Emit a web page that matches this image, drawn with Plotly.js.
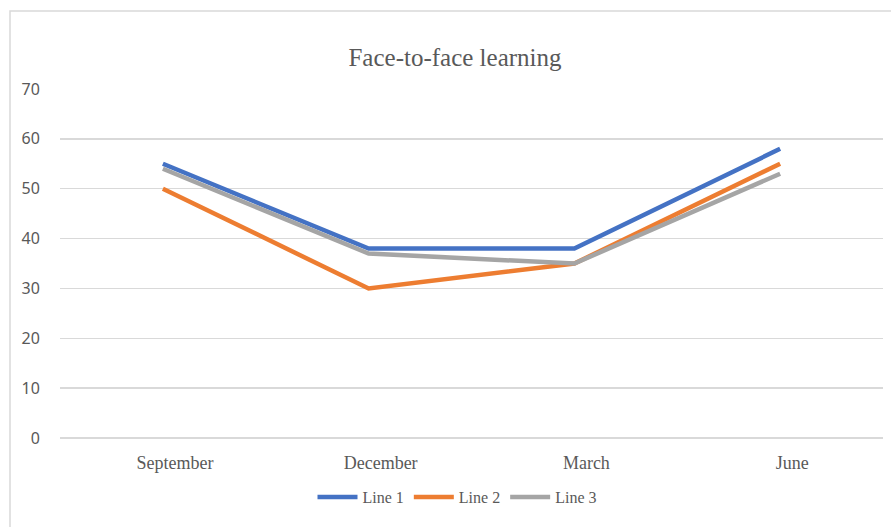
<!DOCTYPE html>
<html>
<head>
<meta charset="utf-8">
<script src="https://cdn.plot.ly/plotly-3.0.1.min.js"></script>
<style>html,body{margin:0;padding:0;background:#fff;}#chart{width:891px;height:527px;}</style>
</head>
<body>
<div id="chart"></div>
<script>
const months = ["September", "December", "March", "June"];
const line1 = [55, 38, 38, 58];
const line2 = [50, 30, 35, 55];
const line3 = [54, 37, 35, 53];
const seriesNames = ["Line 1", "Line 2", "Line 3"];
const seriesColors = ["#4472C4", "#ED7D31", "#A5A5A5"];
const yTicks = [0, 10, 20, 30, 40, 50, 60, 70];

const serif = "Liberation Serif, Times New Roman, serif";
const textGray = "#595959";

const traces = [line1, line2, line3].map((vals, i) => ({
  type: "scatter",
  mode: "lines",
  x: months,
  y: vals,
  name: seriesNames[i],
  line: {color: seriesColors[i], width: 4.5}
}));

const layout = {
  width: 891,
  height: 527,
  margin: {l: 60, r: 8, t: 89, b: 89},
  paper_bgcolor: "#ffffff",
  plot_bgcolor: "#ffffff",
  title: {
    text: "Face-to-face learning",
    font: {family: serif, size: 25, color: textGray},
    x: 455 / 891, xanchor: "center", xref: "container",
    y: 1 - 57 / 527, yanchor: "middle", yref: "container"
  },
  xaxis: {
    type: "category",
    range: [-0.5, 3.5],
    showgrid: false,
    zeroline: false,
    showline: false,
    ticks: "outside",
    ticklen: 8,
    tickcolor: "rgba(0,0,0,0)",
    ticklabelshift: 12,
    tickfont: {family: serif, size: 18, color: textGray}
  },
  yaxis: {
    range: [0, 70],
    tickvals: yTicks,
    showgrid: true,
    gridcolor: "#d9d9d9",
    gridwidth: 1.5,
    zeroline: true,
    zerolinecolor: "#d9d9d9",
    zerolinewidth: 1.5,
    showline: false,
    ticks: "outside",
    ticklen: 16,
    tickcolor: "rgba(0,0,0,0)",
    tickfont: {family: "Noto Sans, Open Sans, sans-serif", size: 16, color: textGray}
  },
  legend: {
    orientation: "h",
    xref: "container", x: 457 / 891, xanchor: "center",
    yref: "container", y: 1 - 497 / 527, yanchor: "middle",
    font: {family: serif, size: 16, color: textGray},
    itemwidth: 40,
    traceorder: "normal"
  },
  shapes: [{
    type: "rect",
    xref: "paper", yref: "paper",
    x0: (10 - 60) / 823, x1: (900 - 60) / 823,
    y0: (438 - 540) / 349, y1: (438 - 11) / 349,
    line: {color: "#d9d9d9", width: 1.5},
    fillcolor: "rgba(0,0,0,0)",
    layer: "below"
  }],
  showlegend: true
};

Plotly.newPlot("chart", traces, layout, {displayModeBar: false, staticPlot: true});
</script>
</body>
</html>
